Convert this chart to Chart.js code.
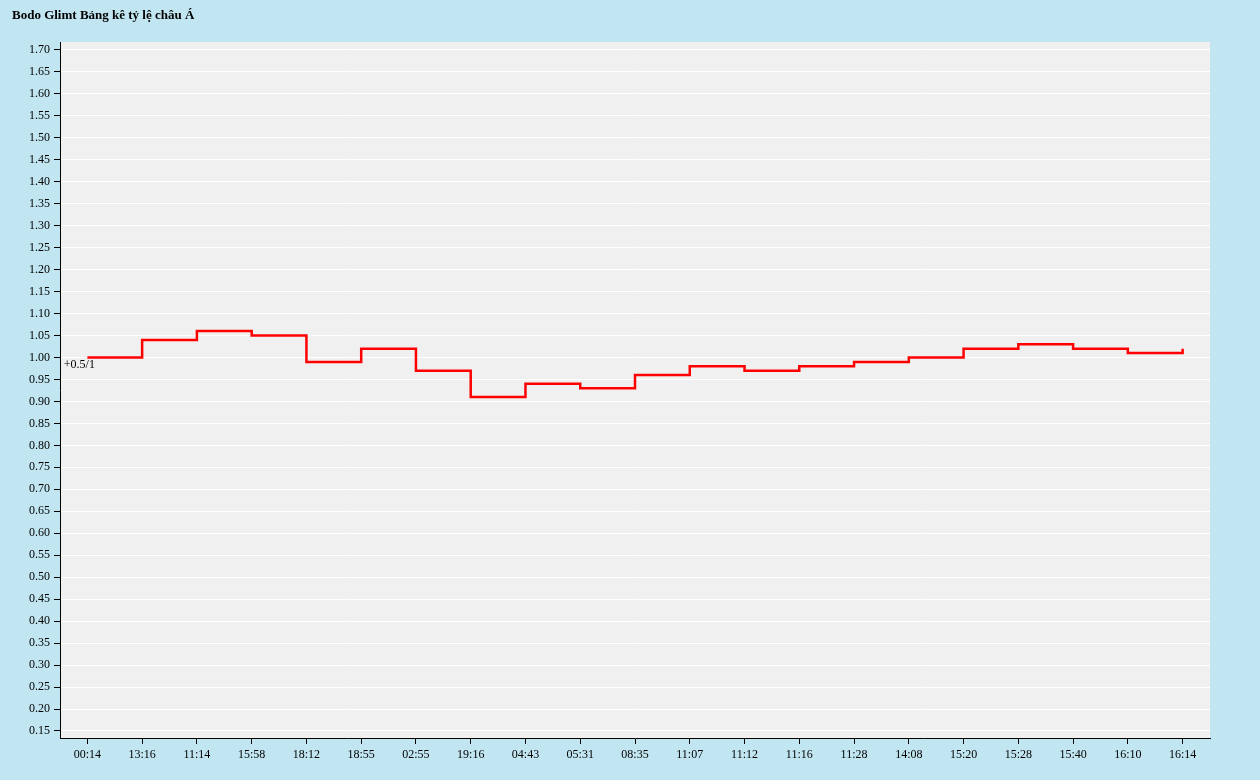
<!DOCTYPE html>
<html>
<head>
<meta charset="utf-8">
<script src="https://cdn.jsdelivr.net/npm/chart.js@4"></script>
<style>
  body { margin: 0; background: #c1e6f1; }
  #wrap { width: 1260px; height: 780px; }
</style>
</head>
<body>
<div id="wrap"><canvas id="chart"></canvas></div>
<script>
const times = ['00:14', '13:16', '11:14', '15:58', '18:12', '18:55', '02:55', '19:16', '04:43', '05:31',
    '08:35', '11:07', '11:12', '11:16', '11:28', '14:08', '15:20', '15:28', '15:40', '16:10', '16:14'];
const odds = [1.00, 1.04, 1.06, 1.05, 0.99, 1.02, 0.97, 0.91, 0.94, 0.93, 0.96,
    0.98, 0.97, 0.98, 0.99, 1.00, 1.02, 1.03, 1.02, 1.01, 1.02];
const yTicks = [];
for (let v = 15; v <= 170; v += 5) yTicks.push(v / 100);
const handicap = '+0.5/1';
const title = 'Bodo Glimt Bảng kê tỷ lệ châu Á';

const font = { family: '"Liberation Serif", "DejaVu Serif", serif', size: 12 };

// Plot background, title and the handicap label
const decor = {
    id: 'decor',
    beforeDraw(chart) {
        const { ctx, chartArea: a } = chart;
        ctx.save();
        ctx.fillStyle = '#f0f0f0';
        ctx.fillRect(a.left, a.top, a.right - a.left, a.bottom - a.top);
        ctx.fillStyle = '#000';
        ctx.font = 'bold 13px ' + font.family;
        ctx.textBaseline = 'middle';
        ctx.fillText(title, 12, 16);
        ctx.restore();
    },
    afterDatasetsDraw(chart) {
        const { ctx } = chart;
        const pt = chart.getDatasetMeta(0).data[0];
        ctx.save();
        ctx.fillStyle = '#000';
        ctx.font = '12px ' + font.family;
        ctx.textAlign = 'center';
        ctx.textBaseline = 'top';
        ctx.fillText(handicap, pt.x - 8, pt.y + 1);
        ctx.restore();
    }
};

new Chart(document.getElementById('chart'), {
    type: 'line',
    data: {
        labels: times,
        datasets: [{
            data: odds,
            stepped: 'before',
            borderColor: '#ff0000',
            borderWidth: 2.5,
            pointRadius: 0,
            fill: false
        }]
    },
    options: {
        responsive: true,
        maintainAspectRatio: false,
        animation: false,
        layout: { padding: { top: 42, right: 50, left: 0, bottom: 0 } },
        plugins: { legend: { display: false }, tooltip: { enabled: false } },
        scales: {
            x: {
                offset: true,
                afterFit(s) { s.height = 42; },
                grid: { drawOnChartArea: false, color: '#000', tickLength: 6, offset: false },
                border: { color: '#000' },
                ticks: { color: '#000', font: font, maxRotation: 0, autoSkip: false, padding: 4 }
            },
            y: {
                min: 0.134,
                max: 1.718,
                afterFit(s) { s.width = 60; },
                afterBuildTicks(s) { s.ticks = yTicks.map(v => ({ value: v })); },
                grid: { color: '#ffffff', tickColor: '#000', tickLength: 6 },
                border: { color: '#000' },
                ticks: { color: '#000', font: font, padding: 4, callback: v => v.toFixed(2) }
            }
        }
    },
    plugins: [decor]
});
</script>
</body>
</html>
